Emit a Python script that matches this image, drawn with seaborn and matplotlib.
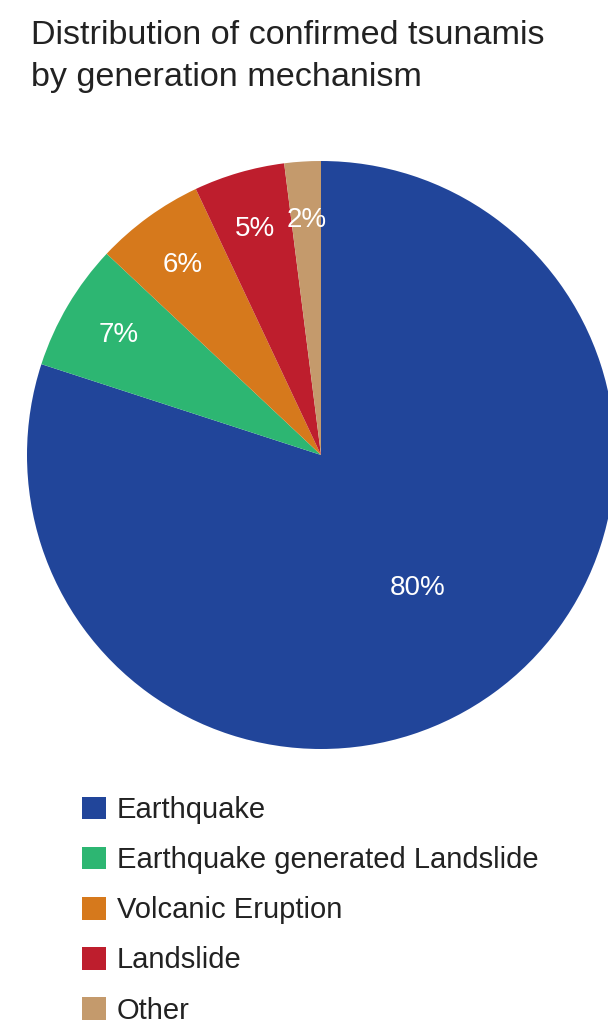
import numpy as np
import matplotlib
matplotlib.use("Agg")
import matplotlib.pyplot as plt
import matplotlib.patches as mpatches
import seaborn as sns

# Tsunami share by generation mechanism (percent)
mechanisms = ["Earthquake", "Earthquake generated Landslide", "Volcanic Eruption",
              "Landslide", "Other"]
shares = [80, 7, 6, 5, 2]
colors = ["#21459a", "#2db672", "#d6791c", "#be1e2d", "#c49a6c"]

sns.set_theme(style="white")
plt.rcParams["font.family"] = ["Liberation Sans", "DejaVu Sans"]

W, H = 608, 1026
fig = plt.figure(figsize=(W / 100, H / 100), dpi=100)
fig.patch.set_facecolor("white")

# pie axes: centre (321, 455) px, radius 294 px
cx, cy, r = 321, 455, 294
ax = fig.add_axes([(cx - r) / W, 1 - (cy + r) / H, 2 * r / W, 2 * r / H])
wedges, _ = ax.pie(shares, colors=colors, startangle=90, counterclock=False,
                   radius=1, wedgeprops=dict(linewidth=0))
ax.set_xlim(-1, 1)
ax.set_ylim(-1, 1)
ax.set_aspect("equal")
ax.axis("off")

# percentage labels, big slice closer to centre
for w, v in zip(wedges, shares):
    mid = np.deg2rad((w.theta1 + w.theta2) / 2)
    d = 0.56 if v > 50 else 0.80
    ax.text(d * np.cos(mid), d * np.sin(mid), f"{v}%", color="white",
            fontsize=20, ha="center", va="center")

fig.text(31 / W, 1 - 20 / H, "Distribution of confirmed tsunamis\nby generation mechanism",
         ha="left", va="top", fontsize=24.6, color="#222222", linespacing=1.45)

handles = [mpatches.Patch(facecolor=c, edgecolor="none") for c in colors]
fig.legend(handles, mechanisms, loc="upper left",
           bbox_to_anchor=(82 / W, 1 - 796 / H), frameon=False,
           fontsize=21, handlelength=0.82, handleheight=0.82,
           handletextpad=0.38, labelspacing=0.76, borderpad=0,
           borderaxespad=0, labelcolor="#222222")

fig.savefig("out.png", dpi=100, facecolor="white")
